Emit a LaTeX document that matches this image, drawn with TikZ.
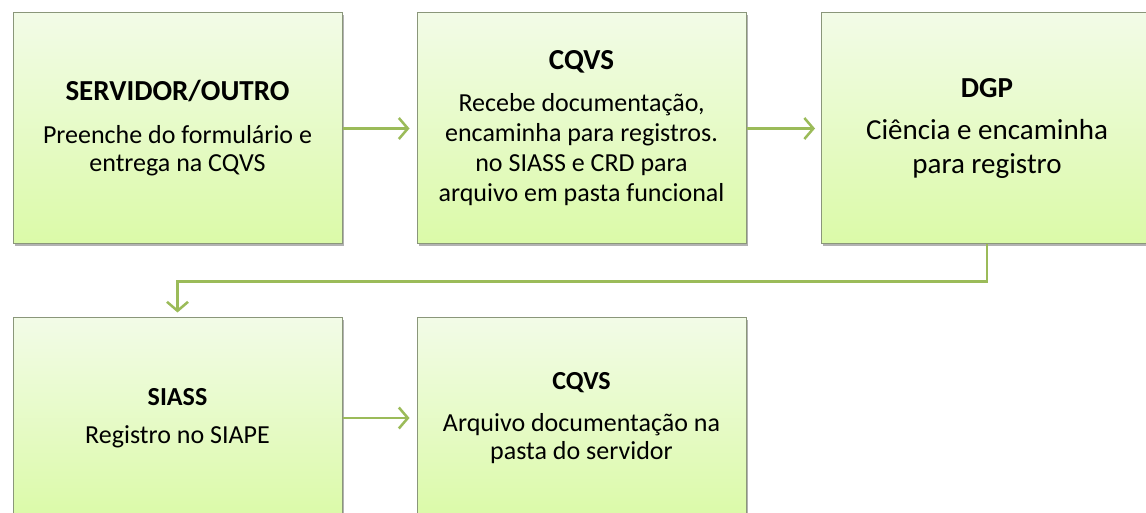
\documentclass[tikz,border=0pt]{standalone}
\usepackage{fontspec}
\setmainfont{Carlito}
\usetikzlibrary{arrows.meta,shadows}
\definecolor{boxtop}{RGB}{242,251,231}
\definecolor{boxbot}{RGB}{219,250,168}
\definecolor{boxline}{RGB}{138,150,122}
\definecolor{arrowc}{RGB}{155,187,89}
\tikzset{
  stepbox/.style={draw=boxline, line width=1pt, top color=boxtop, bottom color=boxbot,
    minimum width=329pt, align=center, inner sep=0pt,
    drop shadow={shadow xshift=1.5pt, shadow yshift=-2.5pt, opacity=0.3, fill=black}},
  rowone/.style={minimum height=231pt},
  rowtwo/.style={minimum height=200pt},
  flow/.style={draw=arrowc, line width=2.5pt, -{Straight Barb[length=9pt,width=21pt]}}
}
\newcommand{\ttl}[1]{{\fontsize{29}{34}\selectfont\bfseries #1}}
\newcommand{\ttls}[1]{{\fontsize{26}{30}\selectfont\bfseries #1}}
\begin{document}
\begin{tikzpicture}[x=1pt,y=1pt]
\clip (0,0) rectangle (1146,512);
\fill[white] (0,0) rectangle (1146,512);
\node[stepbox,rowone,font=\fontsize{26}{28}\selectfont] (b1) at (177.5,383.5)
  {\ttl{SERVIDOR/OUTRO}\\[15pt]Preenche do formulário e\\entrega na CQVS};
\node[stepbox,rowone,font=\fontsize{26}{30}\selectfont] (b2) at (581.5,383.5)
  {\ttl{CQVS}\\[12pt]Recebe documentação,\\encaminha para registros.\\no SIASS e CRD para\\arquivo em pasta funcional};
\node[stepbox,rowone,minimum width=331pt,font=\fontsize{29}{34}\selectfont] (b3) at (987,383.5)
  {\ttl{DGP}\\[8pt]Ciência e encaminha\\para registro};
\node[stepbox,rowtwo,font=\fontsize{26}{29}\selectfont] (b4) at (177.5,94)
  {\ttls{SIASS}\\[9pt]Registro no SIAPE};
\node[stepbox,rowtwo,font=\fontsize{26}{28}\selectfont] (b5) at (581.5,94)
  {\ttls{CQVS}\\[14pt]Arquivo documentação na\\pasta do servidor};
\draw[flow, shorten >=7pt] (b1.east) -- (b2.west);
\draw[flow, shorten >=6pt] (b2.east) -- (b3.west);
\draw[flow, shorten >=5pt] (b3.south) -- ++(0,-37) -| (b4.north);
\draw[flow, shorten >=7pt] (b4.east) -- (b5.west);
\end{tikzpicture}
\end{document}
